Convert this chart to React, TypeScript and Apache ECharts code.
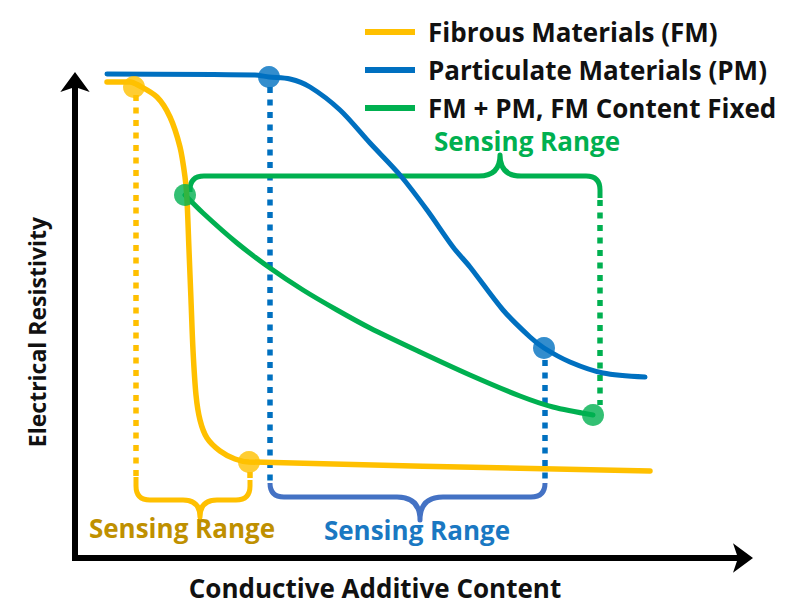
import React, { useEffect, useRef } from "react";
import * as echarts from "echarts";

// Units: arbitrary "content" (x) and "resistivity" (y)
const FM_CONTENT = [32, 55, 63, 82, 95, 105, 110, 112, 114, 116, 118, 121, 125, 132, 145, 160, 174, 575];
const FM_RESISTIVITY = [473, 473, 470, 458, 438, 408, 378, 355, 305, 255, 205, 160, 135, 117, 104, 96, 93, 84];

const PM_CONTENT = [32, 180, 194, 215, 235, 265, 295, 325, 352, 378, 395, 428, 455, 469, 495, 528, 570];
const PM_RESISTIVITY = [481, 480, 478, 476, 468, 445, 412, 380, 345, 308, 288, 245, 218, 207, 193, 182, 178];

const MIX_CONTENT = [110, 128, 162, 195, 228, 262, 295, 345, 395, 445, 478, 518];
const MIX_RESISTIVITY = [360, 342, 312, 287, 265, 245, 227, 203, 180, 159, 148, 140];

// sensing-range limits (dots)
const FM_LIMITS = [[59, 468], [174, 93]];
const PM_LIMITS = [[194, 478], [469, 207]];
const MIX_LIMITS = [[110, 360], [518, 140]];

// dotted drop lines: [x, yFrom, yTo]
const FM_DROPS = [[61, 460, 78], [175, 83, 75]];
const PM_DROPS = [[195, 468, 72], [470, 195, 72]];
const MIX_DROPS = [[525, 355, 150]];

// braces: [xLeft, xRight, yLine, tipX, tipY, yEndLeft, yEndRight]
const FM_BRACE = [61, 175, 55, 125, 38, 78, 75];
const PM_BRACE = [195, 470, 58, 345, 35, 72, 72];
const MIX_BRACE = [115, 525, 379, 425, 400, 363, 357];

const SERIES_NAMES = ["Fibrous Materials (FM)", "Particulate Materials (PM)", "FM + PM, FM Content Fixed"];
const AXIS_NAMES = ["Conductive Additive Content", "Electrical Resistivity"];
const RANGE_LABEL = "Sensing Range";

const YELLOW = "#FFC000";
const BLUE = "#0070C0";
const GREEN = "#00B050";

const zip = (xs: number[], ys: number[]) => xs.map((x, i) => [x, ys[i]]);

const braceRender = (params: any, api: any) => {
  const xl = api.value(0), xr = api.value(1), yh = api.value(2), tx = api.value(3), ty = api.value(4), yel = api.value(5), yer = api.value(6);
  const L = api.coord([xl, yel]);
  const HL = api.coord([xl, yh]);
  const HR = api.coord([xr, yh]);
  const R = api.coord([xr, yer]);
  const TH = api.coord([tx, yh]);
  const T = api.coord([tx, ty]);
  const sL = Math.sign(L[1] - HL[1]);
  const sR = Math.sign(R[1] - HR[1]);
  const rL = Math.min(14, Math.abs(L[1] - HL[1]));
  const rR = Math.min(14, Math.abs(R[1] - HR[1]));
  const rt = Math.abs(T[1] - TH[1]);
  const d =
    `M${L[0]} ${L[1]} L${HL[0]} ${HL[1] + sL * rL} Q${HL[0]} ${HL[1]} ${HL[0] + rL} ${HL[1]} ` +
    `L${TH[0] - rt} ${TH[1]} Q${TH[0]} ${TH[1]} ${T[0]} ${T[1]} Q${TH[0]} ${TH[1]} ${TH[0] + rt} ${TH[1]} ` +
    `L${HR[0] - rR} ${HR[1]} Q${HR[0]} ${HR[1]} ${HR[0]} ${HR[1] + sR * rR} L${R[0]} ${R[1]}`;
  return {
    type: "path",
    shape: { pathData: d },
    style: { stroke: api.visual("color"), lineWidth: 5, fill: "none", lineCap: "butt", lineJoin: "round" },
  };
};

const dropSeries = (drops: number[][], color: string) =>
  drops.map((d) => ({
    type: "line",
    data: [[d[0], d[1]], [d[0], d[2]]],
    symbol: "none",
    silent: true,
    clip: false,
    z: 1,
    lineStyle: { color, width: 5.5, type: [6, 6.5], cap: "butt" },
  }));

const braceSeries = (brace: number[], color: string) => ({
  type: "custom",
  renderItem: braceRender,
  data: [brace],
  clip: false,
  silent: true,
  z: 2,
  itemStyle: { color },
  encode: { x: [0, 1, 3], y: [2, 4, 5, 6] },
});

const curveSeries = (name: string, data: number[][], color: string, width: number) => ({
  type: "line",
  name,
  data,
  smooth: 0.3,
  symbol: "none",
  clip: false,
  z: 3,
  itemStyle: { color },
  lineStyle: { color, width, cap: "round" },
});

const dotSeries = (data: number[][], color: string) => ({
  type: "scatter",
  data,
  symbolSize: 22,
  z: 4,
  clip: false,
  silent: true,
  itemStyle: { color },
});

const FONT = "Open Sans";

export default function App() {
  const ref = useRef<HTMLDivElement>(null);
  useEffect(() => {
    const chart = echarts.init(ref.current!, null, { renderer: "svg" });
    const option: any = {
      animation: false,
      backgroundColor: "#fff",
      grid: { left: 75, right: 64, top: 82, bottom: 50 },
      legend: {
        data: SERIES_NAMES,
        orient: "vertical",
        left: 360,
        top: 7,
        icon: "rect",
        itemWidth: 50,
        itemHeight: 6,
        itemGap: -2,
        selectedMode: false,
        textStyle: {
          fontFamily: FONT,
          fontWeight: "bold",
          fontSize: 26,
          lineHeight: 26,
          color: "#111",
          padding: [0, 0, 14, 8],
        },
      },
      xAxis: {
        type: "value",
        min: 0,
        max: 668,
        name: AXIS_NAMES[0],
        nameLocation: "middle",
        nameGap: 17,
        nameTextStyle: { fontFamily: FONT, fontWeight: "bold", fontSize: 26, color: "#111", padding: [0, 68, 0, 0] },
        axisLine: {
          onZero: false,
          symbol: ["none", "arrow"],
          symbolSize: [22, 20],
          symbolOffset: [0, 10],
          lineStyle: { color: "#000", width: 6, cap: "square" },
        },
        axisTick: { show: false },
        axisLabel: { show: false },
        splitLine: { show: false },
      },
      yAxis: {
        type: "value",
        min: -3,
        max: 473,
        name: AXIS_NAMES[1],
        nameLocation: "middle",
        nameRotate: 90,
        nameGap: 27,
        nameTextStyle: { fontFamily: FONT, fontWeight: "bold", fontSize: 23, color: "#111", padding: [0, 24, 0, 0] },
        axisLine: {
          onZero: false,
          symbol: ["none", "arrow"],
          symbolSize: [22, 20],
          symbolOffset: [0, 10],
          lineStyle: { color: "#000", width: 6, cap: "square" },
        },
        axisTick: { show: false },
        axisLabel: { show: false },
        splitLine: { show: false },
      },
      series: [
        ...dropSeries(FM_DROPS, YELLOW),
        ...dropSeries(PM_DROPS, BLUE),
        ...dropSeries(MIX_DROPS, GREEN),
        braceSeries(FM_BRACE, YELLOW),
        braceSeries(PM_BRACE, "#4472C4"),
        braceSeries(MIX_BRACE, GREEN),
        curveSeries(SERIES_NAMES[2], zip(MIX_CONTENT, MIX_RESISTIVITY), GREEN, 5),
        curveSeries(SERIES_NAMES[0], zip(FM_CONTENT, FM_RESISTIVITY), YELLOW, 5.5),
        curveSeries(SERIES_NAMES[1], zip(PM_CONTENT, PM_RESISTIVITY), BLUE, 5),
        dotSeries(FM_LIMITS, YELLOW),
        dotSeries(PM_LIMITS, BLUE),
        dotSeries(MIX_LIMITS, GREEN),
      ],
      graphic: [
        {
          type: "text",
          x: 182,
          y: 528,
          style: { text: RANGE_LABEL, fill: "#BF9000", font: `bold 26px "${FONT}"`, align: "center", verticalAlign: "middle" },
        },
        {
          type: "text",
          x: 417,
          y: 530,
          style: { text: RANGE_LABEL, fill: "#1A78C2", font: `bold 26px "${FONT}"`, align: "center", verticalAlign: "middle" },
        },
        {
          type: "text",
          x: 527,
          y: 141,
          style: { text: RANGE_LABEL, fill: GREEN, font: `bold 26px "${FONT}"`, align: "center", verticalAlign: "middle" },
        },
      ],
    };
    chart.setOption(option);
    return () => chart.dispose();
  }, []);
  return <div ref={ref} style={{ position: "absolute", left: 0, top: 0, width: 807, height: 608 }} />;
}
